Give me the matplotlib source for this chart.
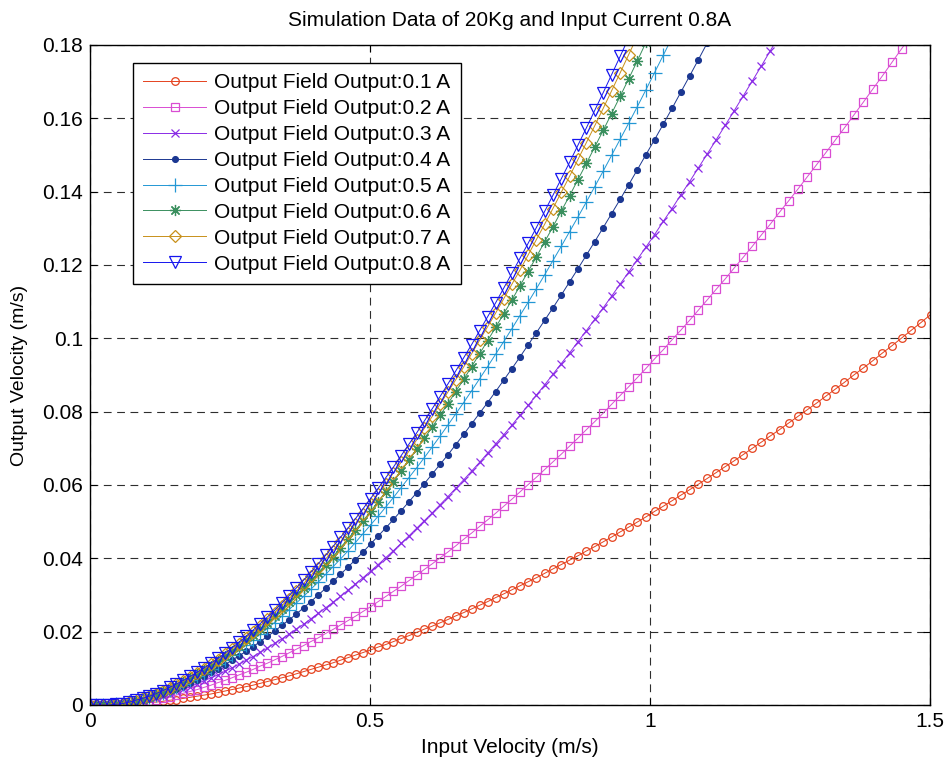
import matplotlib
matplotlib.use("Agg")
import matplotlib.pyplot as plt

# Input velocity samples shared by all runs (m/s)
input_velocity = [
    0.0000, 0.0116, 0.0232, 0.0349, 0.0466, 0.0584, 0.0702, 0.0820, 0.0939, 0.1059,
    0.1180, 0.1301, 0.1422, 0.1544, 0.1666, 0.1789, 0.1912, 0.2035, 0.2159, 0.2283,
    0.2408, 0.2533, 0.2659, 0.2785, 0.2912, 0.3039, 0.3167, 0.3295, 0.3424, 0.3553,
    0.3683, 0.3813, 0.3944, 0.4075, 0.4207, 0.4339, 0.4472, 0.4605, 0.4739, 0.4874,
    0.5010, 0.5146, 0.5282, 0.5419, 0.5556, 0.5694, 0.5833, 0.5972, 0.6111, 0.6250,
    0.6389, 0.6531, 0.6673, 0.6815, 0.6958, 0.7101, 0.7244, 0.7388, 0.7532, 0.7677,
    0.7823, 0.7970, 0.8118, 0.8266, 0.8415, 0.8564, 0.8714, 0.8864, 0.9014, 0.9164,
    0.9314, 0.9467, 0.9620, 0.9774, 0.9928, 1.0082, 1.0237, 1.0393, 1.0549, 1.0706,
    1.0864, 1.1023, 1.1183, 1.1343, 1.1504, 1.1665, 1.1827, 1.1989, 1.2151, 1.2313,
    1.2476, 1.2641, 1.2806, 1.2972, 1.3138, 1.3305, 1.3472, 1.3640, 1.3809, 1.3979,
    1.4151, 1.4322, 1.4494, 1.4666, 1.4839, 1.5012,
]

# Output velocity (m/s) for each field current
out_01a = [
    0.0000, 0.0000, 0.0000, 0.0000, 0.0000, 0.0001, 0.0002, 0.0003, 0.0005, 0.0007,
    0.0008, 0.0010, 0.0013, 0.0015, 0.0018, 0.0021, 0.0024, 0.0027, 0.0030, 0.0034,
    0.0038, 0.0042, 0.0046, 0.0050, 0.0054, 0.0059, 0.0064, 0.0069, 0.0074, 0.0079,
    0.0085, 0.0091, 0.0097, 0.0103, 0.0109, 0.0115, 0.0122, 0.0129, 0.0136, 0.0143,
    0.0150, 0.0158, 0.0165, 0.0173, 0.0181, 0.0189, 0.0198, 0.0207, 0.0215, 0.0224,
    0.0233, 0.0243, 0.0252, 0.0262, 0.0272, 0.0282, 0.0293, 0.0303, 0.0314, 0.0325,
    0.0336, 0.0347, 0.0359, 0.0371, 0.0383, 0.0395, 0.0407, 0.0420, 0.0432, 0.0445,
    0.0458, 0.0472, 0.0485, 0.0499, 0.0513, 0.0528, 0.0542, 0.0557, 0.0572, 0.0587,
    0.0602, 0.0618, 0.0634, 0.0650, 0.0666, 0.0683, 0.0700, 0.0717, 0.0734, 0.0751,
    0.0769, 0.0787, 0.0805, 0.0823, 0.0842, 0.0861, 0.0880, 0.0900, 0.0919, 0.0939,
    0.0960, 0.0980, 0.1001, 0.1022, 0.1043, 0.1065,
]
out_02a = [
    0.0000, 0.0000, 0.0000, 0.0000, 0.0001, 0.0002, 0.0004, 0.0006, 0.0009, 0.0012,
    0.0015, 0.0019, 0.0023, 0.0027, 0.0032, 0.0037, 0.0042, 0.0048, 0.0054, 0.0061,
    0.0067, 0.0074, 0.0082, 0.0089, 0.0097, 0.0106, 0.0114, 0.0123, 0.0132, 0.0142,
    0.0152, 0.0162, 0.0173, 0.0183, 0.0195, 0.0206, 0.0218, 0.0230, 0.0242, 0.0255,
    0.0268, 0.0282, 0.0296, 0.0310, 0.0324, 0.0339, 0.0354, 0.0370, 0.0385, 0.0401,
    0.0417, 0.0434, 0.0452, 0.0469, 0.0487, 0.0505, 0.0523, 0.0542, 0.0561, 0.0581,
    0.0601, 0.0621, 0.0642, 0.0663, 0.0684, 0.0706, 0.0728, 0.0751, 0.0773, 0.0796,
    0.0820, 0.0844, 0.0868, 0.0893, 0.0918, 0.0944, 0.0969, 0.0996, 0.1022, 0.1049,
    0.1077, 0.1105, 0.1134, 0.1162, 0.1192, 0.1221, 0.1251, 0.1282, 0.1312, 0.1344,
    0.1375, 0.1407, 0.1440, 0.1473, 0.1506, 0.1540, 0.1574, 0.1609, 0.1644, 0.1680,
    0.1716, 0.1753, 0.1790, 0.1827,
]
out_03a = [
    0.0000, 0.0000, 0.0000, 0.0000, 0.0001, 0.0003, 0.0005, 0.0008, 0.0012, 0.0016,
    0.0020, 0.0025, 0.0031, 0.0037, 0.0043, 0.0050, 0.0058, 0.0066, 0.0074, 0.0082,
    0.0092, 0.0101, 0.0111, 0.0122, 0.0132, 0.0144, 0.0155, 0.0168, 0.0180, 0.0193,
    0.0207, 0.0220, 0.0235, 0.0250, 0.0265, 0.0280, 0.0296, 0.0313, 0.0330, 0.0347,
    0.0365, 0.0383, 0.0402, 0.0421, 0.0441, 0.0461, 0.0482, 0.0503, 0.0524, 0.0546,
    0.0568, 0.0591, 0.0614, 0.0638, 0.0662, 0.0687, 0.0712, 0.0737, 0.0763, 0.0790,
    0.0817, 0.0845, 0.0873, 0.0902, 0.0931, 0.0960, 0.0991, 0.1021, 0.1052, 0.1083,
    0.1115, 0.1148, 0.1181, 0.1215, 0.1249, 0.1283, 0.1319, 0.1354, 0.1391, 0.1427,
    0.1465, 0.1503, 0.1542, 0.1581, 0.1621, 0.1661, 0.1702, 0.1743, 0.1785, 0.1827,
]
out_04a = [
    0.0000, 0.0000, 0.0000, 0.0000, 0.0001, 0.0003, 0.0006, 0.0010, 0.0014, 0.0019,
    0.0024, 0.0031, 0.0037, 0.0044, 0.0052, 0.0061, 0.0069, 0.0079, 0.0089, 0.0099,
    0.0110, 0.0122, 0.0134, 0.0146, 0.0159, 0.0173, 0.0187, 0.0201, 0.0217, 0.0232,
    0.0248, 0.0265, 0.0282, 0.0300, 0.0318, 0.0337, 0.0356, 0.0376, 0.0396, 0.0417,
    0.0439, 0.0461, 0.0483, 0.0506, 0.0530, 0.0554, 0.0579, 0.0604, 0.0630, 0.0656,
    0.0682, 0.0710, 0.0738, 0.0767, 0.0796, 0.0825, 0.0855, 0.0886, 0.0917, 0.0949,
    0.0982, 0.1015, 0.1049, 0.1083, 0.1118, 0.1154, 0.1190, 0.1227, 0.1264, 0.1302,
    0.1340, 0.1379, 0.1419, 0.1460, 0.1501, 0.1542, 0.1584, 0.1627, 0.1671, 0.1715,
    0.1760, 0.1806,
]
out_05a = [
    0.0000, 0.0000, 0.0000, 0.0000, 0.0002, 0.0004, 0.0007, 0.0011, 0.0016, 0.0021,
    0.0027, 0.0034, 0.0042, 0.0050, 0.0058, 0.0068, 0.0078, 0.0088, 0.0099, 0.0111,
    0.0123, 0.0136, 0.0149, 0.0163, 0.0178, 0.0193, 0.0209, 0.0225, 0.0242, 0.0260,
    0.0278, 0.0296, 0.0316, 0.0335, 0.0356, 0.0377, 0.0398, 0.0420, 0.0443, 0.0467,
    0.0491, 0.0515, 0.0540, 0.0566, 0.0593, 0.0620, 0.0647, 0.0675, 0.0704, 0.0733,
    0.0763, 0.0794, 0.0825, 0.0857, 0.0890, 0.0923, 0.0957, 0.0991, 0.1026, 0.1062,
    0.1098, 0.1135, 0.1173, 0.1212, 0.1251, 0.1291, 0.1331, 0.1372, 0.1414, 0.1456,
    0.1499, 0.1543, 0.1587, 0.1632, 0.1678, 0.1725, 0.1772, 0.1820,
]
out_06a = [
    0.0000, 0.0000, 0.0000, 0.0000, 0.0002, 0.0004, 0.0008, 0.0012, 0.0017, 0.0023,
    0.0029, 0.0037, 0.0045, 0.0053, 0.0063, 0.0073, 0.0084, 0.0095, 0.0107, 0.0119,
    0.0133, 0.0146, 0.0161, 0.0176, 0.0192, 0.0208, 0.0225, 0.0242, 0.0261, 0.0280,
    0.0299, 0.0319, 0.0340, 0.0361, 0.0383, 0.0405, 0.0429, 0.0453, 0.0477, 0.0502,
    0.0528, 0.0555, 0.0582, 0.0609, 0.0638, 0.0667, 0.0697, 0.0727, 0.0758, 0.0790,
    0.0821, 0.0855, 0.0888, 0.0923, 0.0958, 0.0994, 0.1030, 0.1067, 0.1104, 0.1143,
    0.1182, 0.1222, 0.1263, 0.1304, 0.1347, 0.1389, 0.1433, 0.1477, 0.1522, 0.1567,
    0.1613, 0.1660, 0.1708, 0.1757, 0.1807,
]
out_07a = [
    0.0000, 0.0000, 0.0000, 0.0000, 0.0002, 0.0004, 0.0008, 0.0012, 0.0018, 0.0024,
    0.0031, 0.0038, 0.0046, 0.0056, 0.0065, 0.0076, 0.0087, 0.0098, 0.0111, 0.0124,
    0.0138, 0.0152, 0.0167, 0.0183, 0.0199, 0.0216, 0.0234, 0.0252, 0.0271, 0.0290,
    0.0310, 0.0331, 0.0353, 0.0375, 0.0398, 0.0421, 0.0445, 0.0470, 0.0495, 0.0521,
    0.0548, 0.0576, 0.0604, 0.0633, 0.0662, 0.0692, 0.0723, 0.0755, 0.0787, 0.0820,
    0.0853, 0.0887, 0.0922, 0.0958, 0.0995, 0.1032, 0.1069, 0.1108, 0.1147, 0.1186,
    0.1227, 0.1269, 0.1311, 0.1354, 0.1398, 0.1442, 0.1488, 0.1534, 0.1580, 0.1627,
    0.1675, 0.1724, 0.1774, 0.1824,
]
out_08a = [
    0.0000, 0.0000, 0.0000, 0.0000, 0.0002, 0.0004, 0.0008, 0.0013, 0.0018, 0.0024,
    0.0031, 0.0039, 0.0048, 0.0057, 0.0067, 0.0078, 0.0089, 0.0101, 0.0114, 0.0127,
    0.0141, 0.0156, 0.0171, 0.0187, 0.0204, 0.0222, 0.0240, 0.0258, 0.0278, 0.0298,
    0.0319, 0.0340, 0.0362, 0.0385, 0.0408, 0.0432, 0.0457, 0.0482, 0.0508, 0.0535,
    0.0563, 0.0591, 0.0620, 0.0649, 0.0680, 0.0711, 0.0742, 0.0775, 0.0808, 0.0841,
    0.0875, 0.0911, 0.0947, 0.0983, 0.1021, 0.1059, 0.1097, 0.1137, 0.1177, 0.1218,
    0.1259, 0.1302, 0.1346, 0.1390, 0.1435, 0.1480, 0.1527, 0.1574, 0.1622, 0.1670,
    0.1719, 0.1769, 0.1820,
]

series_labels = [
    "Output Field Output:0.1 A", "Output Field Output:0.2 A",
    "Output Field Output:0.3 A", "Output Field Output:0.4 A",
    "Output Field Output:0.5 A", "Output Field Output:0.6 A",
    "Output Field Output:0.7 A", "Output Field Output:0.8 A",
]
series_values = [out_01a, out_02a, out_03a, out_04a, out_05a, out_06a, out_07a, out_08a]

x_ticks = [0, 0.5, 1, 1.5]
x_tick_labels = ["0", "0.5", "1", "1.5"]
y_ticks = [0, 0.02, 0.04, 0.06, 0.08, 0.1, 0.12, 0.14, 0.16, 0.18]
y_tick_labels = ["0", "0.02", "0.04", "0.06", "0.08", "0.1", "0.12", "0.14", "0.16", "0.18"]

# line styling per current: colour, marker, marker size, filled
styles = [
    ("#E5421E", "o", 5.5, False),
    ("#D94CD2", "s", 5.5, False),
    ("#8A2BE6", "x", 6.0, False),
    ("#1B3791", "o", 4.2, True),
    ("#2397D4", "+", 9.5, False),
    ("#3A8F5E", (8, 2, 0), 8.0, False),
    ("#C8901A", "D", 6.5, False),
    ("#1515EE", "v", 8.5, False),
]

plt.rcParams["font.family"] = ["Liberation Sans", "DejaVu Sans"]

fig = plt.figure(figsize=(9.45, 7.61), dpi=100)
ax = fig.add_axes([90 / 945, 1 - 705 / 761, 840 / 945, 660 / 761])

for vals, label, (col, mk, ms, filled) in zip(series_values, series_labels, styles):
    xs = input_velocity[:len(vals)]
    ax.plot(xs, vals, color=col, linewidth=0.7, marker=mk, markersize=ms,
            markerfacecolor=col if filled else "none", markeredgecolor=col,
            markeredgewidth=0.9, label=label)

ax.set_xlim(0, 1.5)
ax.set_ylim(0, 0.18)
ax.set_xticks(x_ticks)
ax.set_xticklabels(x_tick_labels)
ax.set_yticks(y_ticks)
ax.set_yticklabels(y_tick_labels)
ax.tick_params(direction="in", top=True, right=True, length=5, width=0.8,
               labelsize=15, pad=5, colors="black")
for sp in ax.spines.values():
    sp.set_linewidth(1.0)
    sp.set_color("black")
ax.grid(True, color="#2e2e2e", linestyle=(0, (7, 5)), linewidth=0.8)
ax.set_axisbelow(True)

ax.set_title("Simulation Data of 20Kg and Input Current 0.8A", fontsize=15, pad=14)
ax.set_xlabel("Input Velocity (m/s)", fontsize=15, labelpad=5)
ax.set_ylabel("Output Velocity (m/s)", fontsize=14, labelpad=10)

leg = ax.legend(loc="upper left", bbox_to_anchor=(43 / 840, 1 - 18 / 660),
                fontsize=15, frameon=True, fancybox=False, framealpha=1,
                edgecolor="black", handlelength=3.0, handletextpad=0.4,
                labelspacing=0.33, borderpad=0.5, borderaxespad=0)
leg.get_frame().set_linewidth(1.0)

fig.savefig("out.png", dpi=100, facecolor="white")
